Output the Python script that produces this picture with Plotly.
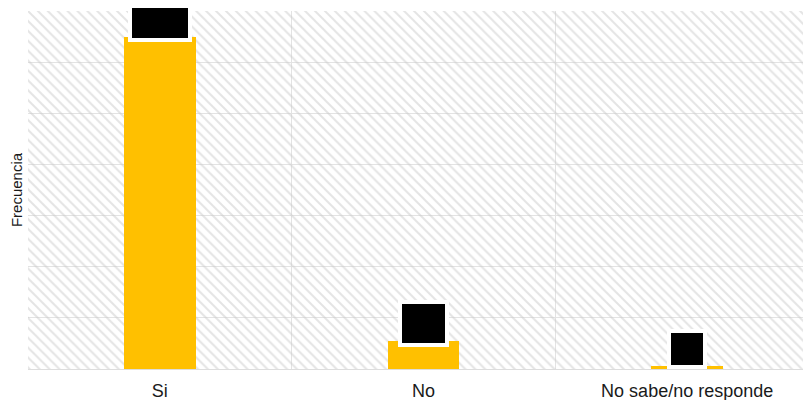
import plotly.graph_objects as go

categories = ["Si", "No", "No sabe/no responde"]
frecuencia = [130, 11, 1]
y_max = 140
y_step = 20

# label box styling (black boxes with white border)
box_w = [56, 43, 32]
box_h = [37, 39, 32]

bar_color = "#FFC000"

fig = go.Figure()

# hatched plot background
fig.add_trace(go.Bar(
    x=[categories[len(categories) // 2]], y=[y_max], width=[len(categories)],
    marker=dict(color="rgba(0,0,0,0)", line=dict(width=0),
                pattern=dict(shape="\\", fgcolor="#c9c9c9", bgcolor="rgba(0,0,0,0)",
                             size=7, solidity=0.28, fillmode="overlay")),
    hoverinfo="skip", showlegend=False,
))

fig.add_trace(go.Bar(
    x=categories, y=frecuencia, width=0.273,
    marker=dict(color=bar_color, line=dict(width=0)),
    showlegend=False,
))

for c, v, w, h in zip(categories, frecuencia, box_w, box_h):
    fig.add_annotation(
        x=c, y=v, text=str(v), showarrow=False,
        xanchor="center", yanchor="middle", yshift=17,
        font=dict(color="black", size=14, family="Liberation Sans"),
        bgcolor="black", bordercolor="white", borderwidth=4, borderpad=0,
        width=w, height=h,
    )

fig.update_layout(
    width=811, height=400,
    margin=dict(l=20, r=0, t=3, b=39, autoexpand=False),
    paper_bgcolor="white", plot_bgcolor="white",
    barmode="overlay", bargap=0,
    font=dict(family="Liberation Sans", color="#1a1a1a"),
)
fig.update_xaxes(
    type="category", categoryorder="array", categoryarray=categories,
    range=[-0.5, 2.5], tickson="boundaries",
    showgrid=True, gridcolor="#e3e3e3", gridwidth=1,
    showline=True, linecolor="#dddddd", linewidth=1,
    ticks="", ticklabelstandoff=5, tickfont=dict(size=18, color="#1a1a1a"),
    automargin=False, fixedrange=True,
)
fig.update_yaxes(
    range=[0, y_max], dtick=y_step, tick0=0,
    showgrid=True, gridcolor="#e3e3e3", gridwidth=1,
    zeroline=False, showline=False, showticklabels=False, ticks="",
    title=dict(text="Frecuencia", font=dict(size=15, color="#1a1a1a"), standoff=1),
    automargin=False, fixedrange=True,
)

fig.write_html("out.html")
